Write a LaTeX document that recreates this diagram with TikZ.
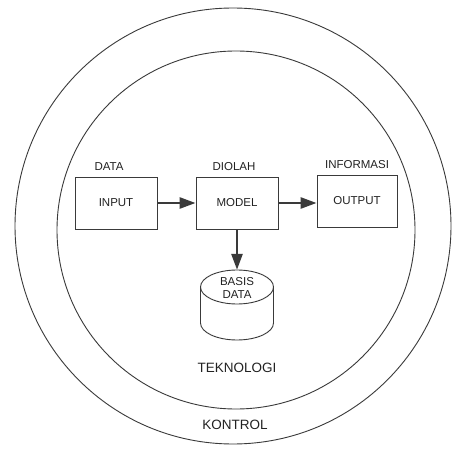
\documentclass[tikz,border=0pt]{standalone}
\usepackage{fontspec}
\setmainfont{Liberation Sans}
\usetikzlibrary{arrows.meta}
\definecolor{ln}{HTML}{3A3A3A}
\definecolor{tx}{HTML}{222222}
\begin{document}
\begin{tikzpicture}[x=1pt,y=1pt,
  ring/.style={draw=ln,line width=0.9pt},
  procbox/.style={draw=ln,line width=0.9pt,minimum width=82pt,minimum height=52pt,inner sep=0pt,
    font=\fontsize{11.5}{13}\selectfont,text=tx},
  toplabel/.style={font=\fontsize{11.5}{13}\selectfont,text=tx,inner sep=0pt},
  biglabel/.style={font=\fontsize{13.5}{15}\selectfont,text=tx,inner sep=0pt},
  flow/.style={draw=ln,line width=2.6pt,-{Triangle[length=16pt,width=11pt]}}]
\useasboundingbox (0,0) rectangle (453,448);
\fill[white] (0,0) rectangle (453,448);
% circles
\draw[ring] (233,222) circle[radius=218];
\draw[ring] (236,218) circle[radius=179];
% boxes
\node[procbox] (input) at (116,245) {INPUT};
\node[procbox] (model) at (237,245) {MODEL};
\node[procbox,minimum width=80pt] (output) at (357,247) {OUTPUT};
\node[toplabel] (ldata) at (109,281) {DATA};
\node[toplabel] (ldiolah) at (234,281) {DIOLAH};
\node[toplabel] (linfo) at (357,283) {INFORMASI};
% database cylinder
\node[minimum width=73pt,minimum height=70pt,inner sep=0pt] (db) at (237,143) {};
\draw[ln,line width=0.9pt] (237,161) ellipse[x radius=36.5,y radius=17];
\draw[ln,line width=0.9pt] (200.5,161) -- (200.5,125) arc[start angle=180,end angle=360,x radius=36.5,y radius=17] -- (273.5,161);
\node[toplabel] (lbasis) at (237,166) {BASIS};
\node[toplabel] (ldb) at (237,153) {DATA};
% arrows
\draw[flow] (input.east) -- (model.west);
\draw[flow] (model.east) -- (output.west |- model.east);
\draw[flow] (model.south) -- (db.north);
% ring labels
\node[biglabel] (tek) at (237,80) {TEKNOLOGI};
\node[biglabel] (kon) at (235,23) {KONTROL};
\end{tikzpicture}
\end{document}
